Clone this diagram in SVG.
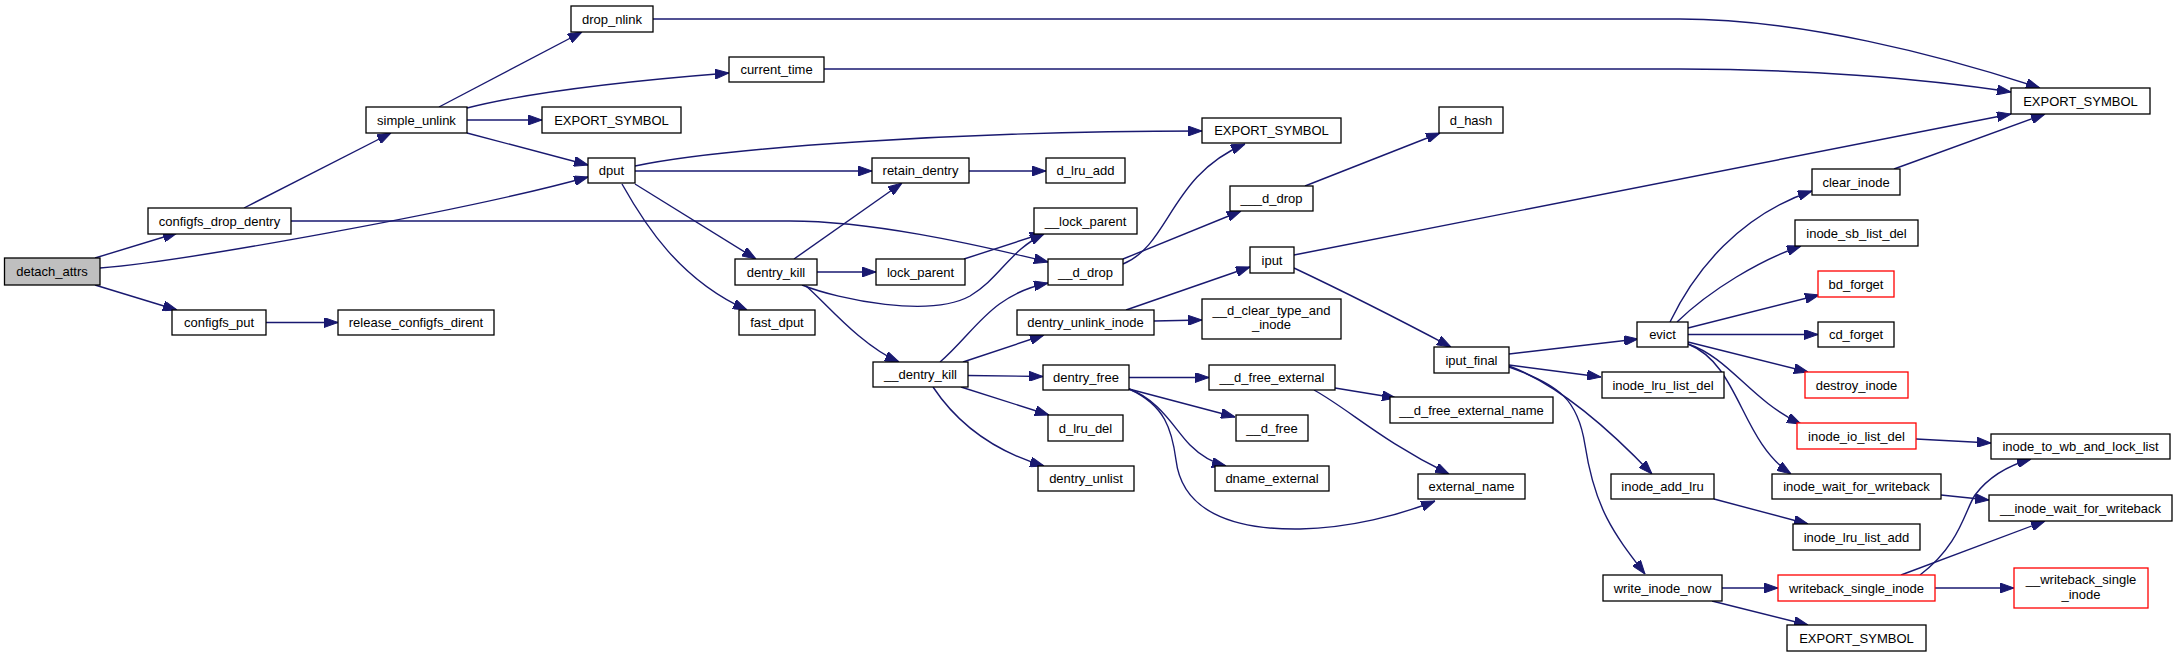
<svg xmlns="http://www.w3.org/2000/svg" width="2177" height="657" viewBox="0 0 2177 657">
<style>
.node rect{fill:#ffffff;stroke:#000000;stroke-width:1.3}
.node.root rect{fill:#bfbfbf}
.node.red rect{stroke:#ff0000}
.node text{font-family:"Liberation Sans",Arial,Helvetica,sans-serif;font-size:13px;text-anchor:middle;fill:#000000}
.edges path{fill:none;stroke:#191970;stroke-width:1.4;marker-end:url(#arr)}
</style>
<defs>
<marker id="arr" markerUnits="userSpaceOnUse" markerWidth="14" markerHeight="10" viewBox="0 0 14 10" refX="14" refY="5" orient="auto">
<path d="M0,0 L14,5 L0,10 z" fill="#191970" stroke="#191970" stroke-width="1"/>
</marker>
</defs>
<rect x="0" y="0" width="2177" height="657" fill="#ffffff"/>
<g id="edges" class="edges">
<path d="M95,258 L177,233"/>
<path d="M100,268 C180,262 470,210 588,177"/>
<path d="M95,285 L177,310"/>
<path d="M244,208 L391,133"/>
<path d="M291,221 L790,221 C870,221 970,243 1048,262"/>
<path d="M266,322.5 L338,322.5"/>
<path d="M439,107 L582,32"/>
<path d="M467,108 C530,92 640,80 729,73"/>
<path d="M467,120 L542,120"/>
<path d="M467,133 L588,165"/>
<path d="M653,19 L1680,19 C1800,19 1940,55 2040,88"/>
<path d="M824,69 L1680,69 C1800,69 1920,78 2011,92"/>
<path d="M635,166 C720,148 960,131 1202,131"/>
<path d="M635,171 L872,171"/>
<path d="M635,184 L756,259"/>
<path d="M622,184 C645,225 680,280 747,310"/>
<path d="M969,171 L1046,171"/>
<path d="M794,259 L902,183"/>
<path d="M817,272 L876,272"/>
<path d="M802,285 C840,300 930,318 970,296 C1000,278 1010,250 1044,234"/>
<path d="M806,286 C825,302 860,345 899,362"/>
<path d="M964,259 L1044,233"/>
<path d="M1123,259 L1241,211"/>
<path d="M1123,264 C1170,245 1170,175 1245,144"/>
<path d="M1305,186 L1440,133"/>
<path d="M1126,310 L1250,267"/>
<path d="M1154,321 L1202,320"/>
<path d="M1294,255 L2011,114"/>
<path d="M1294,268 C1330,285 1400,320 1451,347"/>
<path d="M940,362 C975,332 990,295 1048,283"/>
<path d="M963,362 L1044,335"/>
<path d="M968,375.5 L1043,376.5"/>
<path d="M961,387 L1049,415"/>
<path d="M933,387 C955,420 990,450 1044,466"/>
<path d="M1129,377.5 L1209,377.5"/>
<path d="M1129,389 L1235,417"/>
<path d="M1129,389 C1160,400 1175,430 1190,445 C1200,455 1210,462 1226,466"/>
<path d="M1129,389 C1165,405 1172,430 1176,460 C1182,510 1230,530 1300,529 C1350,528 1400,515 1435,501"/>
<path d="M1335,388 L1396,398"/>
<path d="M1314,390 C1350,410 1380,440 1449,474"/>
<path d="M1509,354 L1638,339"/>
<path d="M1509,365 L1601,377"/>
<path d="M1509,366 C1560,385 1610,430 1652,474"/>
<path d="M1509,367 C1560,385 1578,400 1585,445 C1595,510 1615,535 1645,574"/>
<path d="M1670,322 C1695,270 1740,215 1812,191"/>
<path d="M1677,322 C1710,290 1760,260 1801,246"/>
<path d="M1688,328 L1819,295"/>
<path d="M1688,334.5 L1818,334.5"/>
<path d="M1688,342 L1808,372"/>
<path d="M1688,344 C1730,358 1750,400 1801,424"/>
<path d="M1688,344 C1740,365 1740,440 1791,474"/>
<path d="M1894,169 L2045,114"/>
<path d="M1916,439 L1991,443"/>
<path d="M1714,499 L1808,524"/>
<path d="M1941,495 L1989,500"/>
<path d="M1722,588 L1778,588"/>
<path d="M1712,601 L1808,625"/>
<path d="M1920,575 C1960,545 1965,510 1975,495 C1990,475 2010,465 2031,459"/>
<path d="M1901,575 L2045,521"/>
<path d="M1935,588 L2014,588"/>
</g>
<g id="n_detach_attrs" class="node root"><rect x="4.5" y="258" width="95.5" height="27"/><text x="52" y="276">detach_attrs</text></g>
<g id="n_configfs_drop_dentry" class="node"><rect x="148" y="208" width="143" height="26"/><text x="219.5" y="225.5">configfs_drop_dentry</text></g>
<g id="n_configfs_put" class="node"><rect x="172" y="310" width="94" height="25"/><text x="219" y="327">configfs_put</text></g>
<g id="n_release_configfs_dirent" class="node"><rect x="338" y="310" width="156" height="25"/><text x="416" y="327">release_configfs_dirent</text></g>
<g id="n_simple_unlink" class="node"><rect x="366" y="107" width="101" height="26"/><text x="416.5" y="124.5">simple_unlink</text></g>
<g id="n_drop_nlink" class="node"><rect x="571" y="6" width="82" height="26"/><text x="612" y="23.5">drop_nlink</text></g>
<g id="n_export_symbol_1" class="node"><rect x="542" y="107" width="139" height="26"/><text x="611.5" y="124.5">EXPORT_SYMBOL</text></g>
<g id="n_dput" class="node"><rect x="588" y="158" width="47" height="25"/><text x="611.5" y="175">dput</text></g>
<g id="n_current_time" class="node"><rect x="729" y="57" width="95" height="25"/><text x="776.5" y="74">current_time</text></g>
<g id="n_export_symbol_2" class="node"><rect x="1202" y="118" width="139" height="25"/><text x="1271.5" y="135">EXPORT_SYMBOL</text></g>
<g id="n_retain_dentry" class="node"><rect x="872" y="158" width="97" height="25"/><text x="920.5" y="175">retain_dentry</text></g>
<g id="n_d_lru_add" class="node"><rect x="1046" y="158" width="79" height="25"/><text x="1085.5" y="175">d_lru_add</text></g>
<g id="n____d_drop" class="node"><rect x="1230" y="186" width="83" height="25"/><text x="1271.5" y="203">___d_drop</text></g>
<g id="n___lock_parent" class="node"><rect x="1034" y="208" width="103" height="26"/><text x="1085.5" y="225.5">__lock_parent</text></g>
<g id="n_dentry_kill" class="node"><rect x="735" y="259" width="82" height="26"/><text x="776" y="276.5">dentry_kill</text></g>
<g id="n_lock_parent" class="node"><rect x="876" y="259" width="89" height="26"/><text x="920.5" y="276.5">lock_parent</text></g>
<g id="n___d_drop" class="node"><rect x="1048" y="259" width="75" height="26"/><text x="1085.5" y="276.5">__d_drop</text></g>
<g id="n_iput" class="node"><rect x="1250" y="247" width="44" height="26"/><text x="1272" y="264.5">iput</text></g>
<g id="n_fast_dput" class="node"><rect x="739" y="310" width="76" height="25"/><text x="777" y="327">fast_dput</text></g>
<g id="n_dentry_unlink_inode" class="node"><rect x="1017" y="310" width="137" height="25"/><text x="1085.5" y="327">dentry_unlink_inode</text></g>
<g id="n___d_clear_type_and_inode" class="node"><rect x="1202" y="299" width="139" height="40"/><text x="1271.5" y="315">__d_clear_type_and</text><text x="1271.5" y="329">_inode</text></g>
<g id="n_d_hash" class="node"><rect x="1439" y="107" width="64" height="26"/><text x="1471" y="124.5">d_hash</text></g>
<g id="n_export_symbol_3" class="node"><rect x="2011" y="88" width="139" height="26"/><text x="2080.5" y="105.5">EXPORT_SYMBOL</text></g>
<g id="n_clear_inode" class="node"><rect x="1812" y="169" width="88" height="26"/><text x="1856" y="186.5">clear_inode</text></g>
<g id="n_inode_sb_list_del" class="node"><rect x="1795" y="220" width="123" height="26"/><text x="1856.5" y="237.5">inode_sb_list_del</text></g>
<g id="n_bd_forget" class="node red"><rect x="1818" y="271" width="76" height="26"/><text x="1856" y="288.5">bd_forget</text></g>
<g id="n_cd_forget" class="node"><rect x="1818" y="322" width="76" height="25"/><text x="1856" y="339">cd_forget</text></g>
<g id="n_evict" class="node"><rect x="1637" y="322" width="51" height="25"/><text x="1662.5" y="339">evict</text></g>
<g id="n_iput_final" class="node"><rect x="1434" y="347" width="75" height="26"/><text x="1471.5" y="364.5">iput_final</text></g>
<g id="n___dentry_kill" class="node"><rect x="873" y="362" width="95" height="25"/><text x="920.5" y="379">__dentry_kill</text></g>
<g id="n_dentry_free" class="node"><rect x="1043" y="365" width="86" height="25"/><text x="1086" y="382">dentry_free</text></g>
<g id="n___d_free_external" class="node"><rect x="1209" y="365" width="126" height="25"/><text x="1272" y="382">__d_free_external</text></g>
<g id="n_inode_lru_list_del" class="node"><rect x="1602" y="372" width="122" height="26"/><text x="1663" y="389.5">inode_lru_list_del</text></g>
<g id="n_destroy_inode" class="node red"><rect x="1805" y="372" width="103" height="26"/><text x="1856.5" y="389.5">destroy_inode</text></g>
<g id="n___d_free_external_name" class="node"><rect x="1390" y="397" width="163" height="26"/><text x="1471.5" y="414.5">__d_free_external_name</text></g>
<g id="n_d_lru_del" class="node"><rect x="1048" y="415" width="75" height="26"/><text x="1085.5" y="432.5">d_lru_del</text></g>
<g id="n___d_free" class="node"><rect x="1236" y="415" width="72" height="26"/><text x="1272" y="432.5">__d_free</text></g>
<g id="n_inode_io_list_del" class="node red"><rect x="1797" y="423" width="119" height="26"/><text x="1856.5" y="440.5">inode_io_list_del</text></g>
<g id="n_inode_to_wb_and_lock_list" class="node"><rect x="1991" y="434" width="179" height="25"/><text x="2080.5" y="451">inode_to_wb_and_lock_list</text></g>
<g id="n_dentry_unlist" class="node"><rect x="1038" y="466" width="96" height="25"/><text x="1086" y="483">dentry_unlist</text></g>
<g id="n_dname_external" class="node"><rect x="1215" y="466" width="114" height="25"/><text x="1272" y="483">dname_external</text></g>
<g id="n_external_name" class="node"><rect x="1418" y="474" width="107" height="25"/><text x="1471.5" y="491">external_name</text></g>
<g id="n_inode_add_lru" class="node"><rect x="1611" y="474" width="103" height="25"/><text x="1662.5" y="491">inode_add_lru</text></g>
<g id="n_inode_wait_for_writeback" class="node"><rect x="1772" y="474" width="169" height="25"/><text x="1856.5" y="491">inode_wait_for_writeback</text></g>
<g id="n___inode_wait_for_writeback" class="node"><rect x="1989" y="495" width="183" height="26"/><text x="2080.5" y="512.5">__inode_wait_for_writeback</text></g>
<g id="n_inode_lru_list_add" class="node"><rect x="1793" y="524" width="127" height="26"/><text x="1856.5" y="541.5">inode_lru_list_add</text></g>
<g id="n_write_inode_now" class="node"><rect x="1603" y="575" width="119" height="26"/><text x="1662.5" y="592.5">write_inode_now</text></g>
<g id="n_writeback_single_inode" class="node red"><rect x="1778" y="575" width="157" height="26"/><text x="1856.5" y="592.5">writeback_single_inode</text></g>
<g id="n___writeback_single_inode" class="node red"><rect x="2014" y="568" width="134" height="40"/><text x="2081" y="584">__writeback_single</text><text x="2081" y="599">_inode</text></g>
<g id="n_export_symbol_4" class="node"><rect x="1787" y="625" width="139" height="26"/><text x="1856.5" y="642.5">EXPORT_SYMBOL</text></g>
</svg>
